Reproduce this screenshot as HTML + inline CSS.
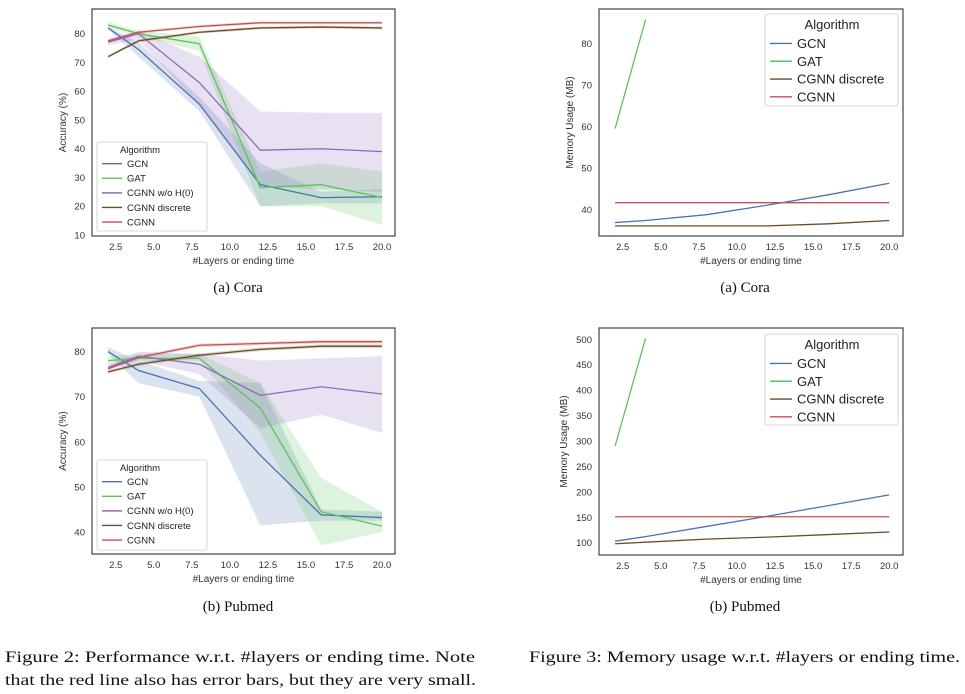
<!DOCTYPE html>
<html><head><meta charset="utf-8">
<style>
html,body{margin:0;padding:0;background:#fff;}
svg{display:block;font-family:"Liberation Sans","DejaVu Sans",sans-serif;}
.cap{font-family:"Liberation Serif",serif;fill:#111;}
</style></head>
<body>
<svg id="fig" width="965" height="694" viewBox="0 0 965 694" xmlns="http://www.w3.org/2000/svg">
<text class="cap" x="238" y="292" text-anchor="middle" font-size="15">(a) Cora</text>
<text class="cap" x="745" y="292" text-anchor="middle" font-size="15">(a) Cora</text>
<text class="cap" x="238" y="611" text-anchor="middle" font-size="15">(b) Pubmed</text>
<text class="cap" x="745" y="611" text-anchor="middle" font-size="15">(b) Pubmed</text>
<text class="cap" x="5" y="662" font-size="16" textLength="470" lengthAdjust="spacingAndGlyphs">Figure 2: Performance w.r.t. #layers or ending time. Note</text>
<text class="cap" x="5" y="685" font-size="16" textLength="471" lengthAdjust="spacingAndGlyphs">that the red line also has error bars, but they are very small.</text>
<text class="cap" x="529" y="662" font-size="16" textLength="431" lengthAdjust="spacingAndGlyphs">Figure 3: Memory usage w.r.t. #layers or ending time.</text>
</svg>
<script>
// ---- shared data ----
const xsLayers = [2, 4, 8, 12, 16, 20];
const xTicks = [2.5, 5.0, 7.5, 10.0, 12.5, 15.0, 17.5, 20.0];
const accSeriesNames = ["GCN", "GAT", "CGNN w/o H(0)", "CGNN discrete", "CGNN"];
const memSeriesNames = ["GCN", "GAT", "CGNN discrete", "CGNN"];

// ---- Cora accuracy ----
const coraAccTicks = [10, 20, 30, 40, 50, 60, 70, 80];
const coraGCN = [82, 74.5, 55.5, 27.5, 23, 23.3];
const coraGCNLo = [81.5, 72, 53, 20, 21, 21];
const coraGCNHi = [82.5, 77, 58, 35, 25, 26];
const coraGAT = [83, 80, 76.5, 26.5, 27.5, 23];
const coraGATLo = [82, 79, 74, 20, 20, 13.5];
const coraGATHi = [84, 81, 79, 32, 35, 32];
const coraWO = [77, 80, 63, 39.5, 40, 39];
const coraWOLo = [76, 78, 55, 27, 26, 25];
const coraWOHi = [78, 81, 72, 53, 52.5, 52.5];
const coraDisc = [72, 77.5, 80.5, 82, 82.3, 82];
const coraCGNN = [77.5, 80.5, 82.5, 83.8, 83.8, 83.8];

// ---- Pubmed accuracy ----
const pubAccTicks = [40, 50, 60, 70, 80];
const pubGCN = [80, 75.8, 71.8, 57, 43.8, 43.2];
const pubGCNLo = [79.5, 73, 70, 41.5, 42.5, 42.5];
const pubGCNHi = [81, 78, 73.5, 73, 45, 44.5];
const pubGAT = [78, 78.5, 78.5, 67.5, 44.5, 41.3];
const pubGATLo = [77, 78, 78, 62, 37, 40];
const pubGATHi = [79, 79.5, 79.5, 73, 52, 44.5];
const pubWO = [76.5, 79, 77.2, 70.3, 72.2, 70.6];
const pubWOLo = [76, 78, 75, 63, 66, 62];
const pubWOHi = [77, 80, 79.5, 78, 78.5, 79];
const pubDisc = [75.5, 77.2, 79.2, 80.5, 81.2, 81.2];
const pubCGNN = [76.2, 78.7, 81.4, 81.8, 82.2, 82.2];

// ---- Cora memory ----
const coraMemTicks = [40, 50, 60, 70, 80];
const coraMemGCN = [36.8, 37.3, 38.7, 41, 43.5, 46.3];
const coraMemGATx = [2, 4];
const coraMemGAT = [59.5, 85.8];
const coraMemDisc = [36, 36, 36, 36, 36.5, 37.3];
const coraMemCGNN = [41.6, 41.6, 41.6, 41.6, 41.6, 41.6];

// ---- Pubmed memory ----
const pubMemTicks = [100, 150, 200, 250, 300, 350, 400, 450, 500];
const pubMemGCN = [103, 112, 132, 152, 173, 194];
const pubMemGATx = [2, 4];
const pubMemGAT = [290, 502];
const pubMemDisc = [98, 101, 107, 111, 116, 121];
const pubMemCGNN = [151, 151, 151, 151, 151, 151];

const C = {blue:"#4c72b0", green:"#5cc35c", purple:"#8c6bb8", brown:"#6b4c2a", red:"#c44e52"};
const NS = "http://www.w3.org/2000/svg";
const svg = document.getElementById("fig");

function mk(tag, attrs, parent) {
  const e = document.createElementNS(NS, tag);
  for (const k in attrs) e.setAttribute(k, attrs[k]);
  (parent || svg).appendChild(e);
  return e;
}

function drawPanel(p) {
  const g = mk("g", {});
  
  
  const sx = v => p.x25 + (v - 2.5) * p.xs;
  const sy = v => p.yRefPx - (v - p.yRef) * p.ys;
  // bands
  p.series.forEach(s => {
    if (!s.lo) return;
    let d = "";
    s.xs.forEach((x, i) => { d += (i ? "L" : "M") + sx(x) + "," + sy(s.hi[i]); });
    for (let i = s.xs.length - 1; i >= 0; i--) d += "L" + sx(s.xs[i]) + "," + sy(s.lo[i]);
    const b = mk("path", {d: d + "Z", fill: s.color, "fill-opacity": 0.2, stroke: "none"}, g);
    
    
  });
  p.series.forEach(s => {
    const pts = s.xs.map((x, i) => sx(x) + "," + sy(s.ys[i])).join(" ");
    const l = mk("polyline", {points: pts, fill: "none", stroke: s.color, "stroke-width": 1.3}, g);
    
    
  });
  // frame
  const fr = mk("rect", {x: p.L, y: p.T, width: p.R - p.L, height: p.B - p.T, fill: "none", stroke: "#444", "stroke-width": 1.2}, g);
  
  
  // ticks
  xTicks.forEach(t => {
    const tx = mk("text", {x: sx(t), y: p.B + 14, "font-size": 9.5, fill: "#333", "text-anchor": "middle"}, g);
    tx.textContent = t.toFixed(1);
    
    
  });
  p.yTicks.forEach(t => {
    const ty = mk("text", {x: p.L - 7, y: sy(t) + 3.5, "font-size": 9.5, fill: "#333", "text-anchor": "end"}, g);
    ty.textContent = t;
    
    
  });
  const xl = mk("text", {x: (p.L + p.R) / 2, y: p.B + 28, "font-size": 10, fill: "#333", "text-anchor": "middle"}, g);
  xl.textContent = "#Layers or ending time";
  
  
  const cy = (p.T + p.B) / 2;
  const yl = mk("text", {x: p.yLabX, y: cy, "font-size": 10, fill: "#333", "text-anchor": "middle", transform: "rotate(-90 " + p.yLabX + " " + cy + ")"}, g);
  yl.textContent = p.yLabel;
  
  
  // legend
  const lg = p.leg;
  const lgG = mk("g", {}, g);
  
  
  mk("rect", {x: lg.x, y: lg.y, width: lg.w, height: lg.h, rx: 2, fill: "#fff", "fill-opacity": 0.85, stroke: "#ccc", "stroke-width": 0.8}, lgG);
  const tt = mk("text", {x: lg.x + lg.titleDx, y: lg.y + lg.titleDy, "font-size": lg.fs, fill: "#222", "text-anchor": "middle"}, lgG);
  tt.textContent = "Algorithm";
  
  
  p.names.forEach((n, i) => {
    const yy = lg.y + lg.firstDy + i * lg.step;
    const e = mk("g", {}, lgG);
    
    
    mk("line", {x1: lg.x + 5, x2: lg.x + 5 + lg.sw, y1: yy - lg.fs * 0.35, y2: yy - lg.fs * 0.35, stroke: p.colors[i], "stroke-width": 1.4}, e);
    const t = mk("text", {x: lg.x + 10 + lg.sw, y: yy, "font-size": lg.fs, fill: "#222"}, e);
    t.textContent = n;
  });
}

const accColors = [C.blue, C.green, C.purple, C.brown, C.red];
const memColors = [C.blue, C.green, C.brown, C.red];

drawPanel({name: "cora-accuracy-chart", L: 92, R: 395, T: 9, B: 236, x25: 115.7, xs: 15.22, yRef: 10, yRefPx: 235, ys: 2.876,
  yTicks: coraAccTicks, yLabel: "Accuracy (%)", yLabX: 66, names: accSeriesNames, colors: accColors,
  leg: {x: 97, y: 142, w: 110, h: 89, fs: 9.5, titleDx: 43, titleDy: 11, firstDy: 25, step: 14.6, sw: 20},
  series: [
    {key: "gcn", xs: xsLayers, ys: coraGCN, lo: coraGCNLo, hi: coraGCNHi, color: C.blue},
    {key: "gat", xs: xsLayers, ys: coraGAT, lo: coraGATLo, hi: coraGATHi, color: C.green},
    {key: "cgnn-wo-h0", xs: xsLayers, ys: coraWO, lo: coraWOLo, hi: coraWOHi, color: C.purple},
    {key: "cgnn-discrete", xs: xsLayers, ys: coraDisc, lo: coraDisc.map(v => v - 0.5), hi: coraDisc.map(v => v + 0.5), color: C.brown},
    {key: "cgnn", xs: xsLayers, ys: coraCGNN, lo: coraCGNN.map(v => v - 0.5), hi: coraCGNN.map(v => v + 0.5), color: C.red}
  ]});

drawPanel({name: "pubmed-accuracy-chart", L: 92, R: 395, T: 328, B: 554, x25: 115.7, xs: 15.22, yRef: 40, yRefPx: 532, ys: 4.51,
  yTicks: pubAccTicks, yLabel: "Accuracy (%)", yLabX: 66, names: accSeriesNames, colors: accColors,
  leg: {x: 97, y: 460, w: 110, h: 90, fs: 9.5, titleDx: 43, titleDy: 11, firstDy: 25, step: 14.6, sw: 20},
  series: [
    {key: "gcn", xs: xsLayers, ys: pubGCN, lo: pubGCNLo, hi: pubGCNHi, color: C.blue},
    {key: "gat", xs: xsLayers, ys: pubGAT, lo: pubGATLo, hi: pubGATHi, color: C.green},
    {key: "cgnn-wo-h0", xs: xsLayers, ys: pubWO, lo: pubWOLo, hi: pubWOHi, color: C.purple},
    {key: "cgnn-discrete", xs: xsLayers, ys: pubDisc, lo: pubDisc.map(v => v - 0.4), hi: pubDisc.map(v => v + 0.4), color: C.brown},
    {key: "cgnn", xs: xsLayers, ys: pubCGNN, lo: pubCGNN.map(v => v - 0.4), hi: pubCGNN.map(v => v + 0.4), color: C.red}
  ]});

drawPanel({name: "cora-memory-chart", L: 599, R: 903, T: 9, B: 236, x25: 622.7, xs: 15.23, yRef: 40, yRefPx: 209.3, ys: 4.14,
  yTicks: coraMemTicks, yLabel: "Memory Usage (MB)", yLabX: 573, names: memSeriesNames, colors: memColors,
  leg: {x: 765, y: 14, w: 133, h: 92, fs: 13, titleDx: 67, titleDy: 15, firstDy: 34, step: 17.8, sw: 22},
  series: [
    {key: "gcn", xs: xsLayers, ys: coraMemGCN, color: C.blue},
    {key: "gat", xs: coraMemGATx, ys: coraMemGAT, color: C.green},
    {key: "cgnn-discrete", xs: xsLayers, ys: coraMemDisc, color: C.brown},
    {key: "cgnn", xs: xsLayers, ys: coraMemCGNN, color: C.red}
  ]});

drawPanel({name: "pubmed-memory-chart", L: 599, R: 903, T: 328, B: 555, x25: 622.7, xs: 15.23, yRef: 100, yRefPx: 542.7, ys: 0.5085,
  yTicks: pubMemTicks, yLabel: "Memory Usage (MB)", yLabX: 567, names: memSeriesNames, colors: memColors,
  leg: {x: 765, y: 334, w: 133, h: 91, fs: 13, titleDx: 67, titleDy: 15, firstDy: 34, step: 17.8, sw: 22},
  series: [
    {key: "gcn", xs: xsLayers, ys: pubMemGCN, color: C.blue},
    {key: "gat", xs: pubMemGATx, ys: pubMemGAT, color: C.green},
    {key: "cgnn-discrete", xs: xsLayers, ys: pubMemDisc, color: C.brown},
    {key: "cgnn", xs: xsLayers, ys: pubMemCGNN, color: C.red}
  ]});
</script>
</body></html>
